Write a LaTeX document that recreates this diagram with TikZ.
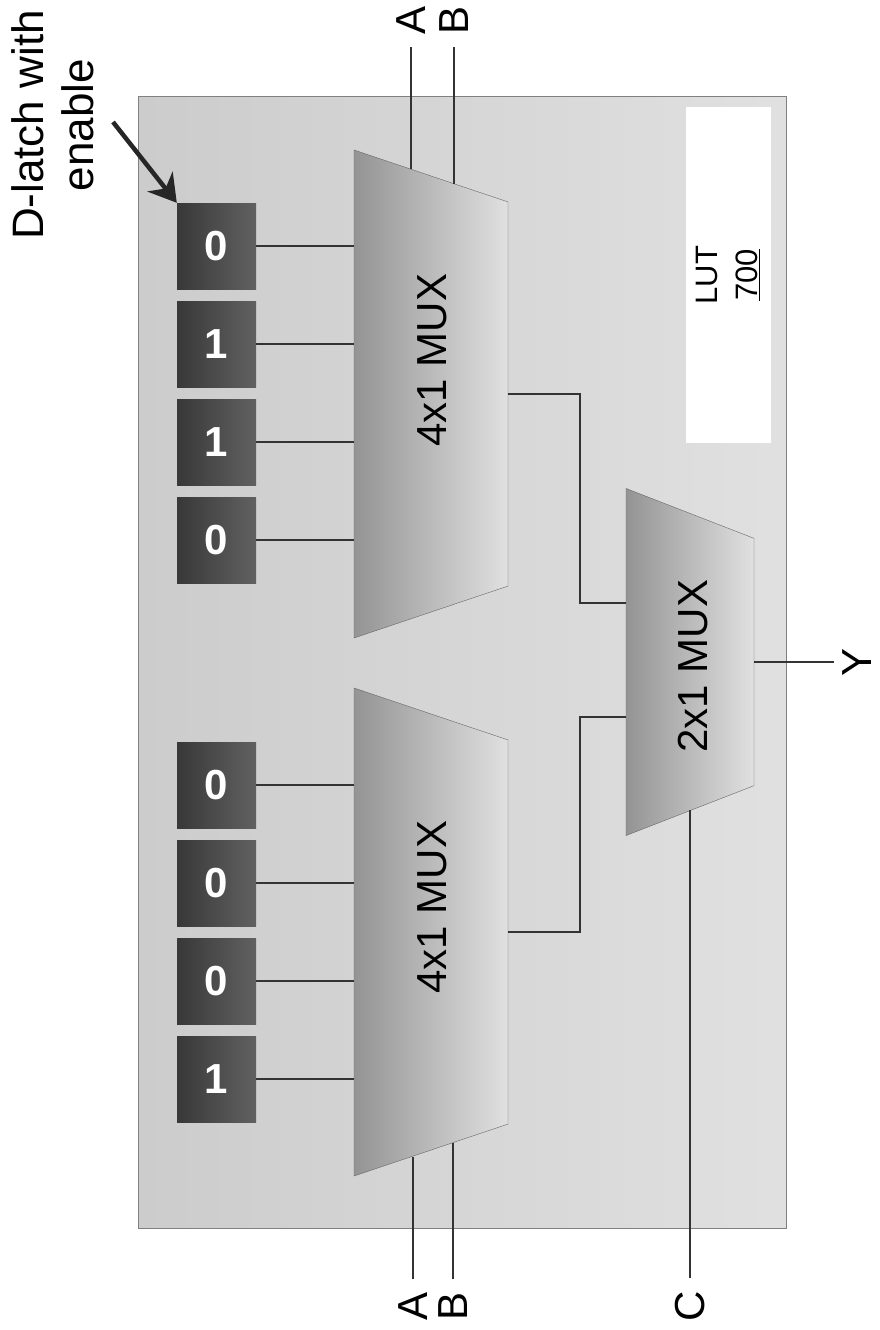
\documentclass[tikz,border=0pt]{standalone}
\usepackage{fontspec}
\setmainfont{Liberation Sans}
\usetikzlibrary{shapes.geometric,arrows.meta}
\begin{document}
\begin{tikzpicture}[x=1pt,y=-1pt,node distance=98pt]
        % Style Definitions
        \tikzstyle{lut} = [rectangle, draw=black!50, left color=black!20, middle color=black!8, right color=black!12, minimum width=648pt, minimum height=1132pt, inner sep=0pt]
        \tikzstyle{lutbox} = [rectangle, fill=white, minimum width=336pt, minimum height=85pt, inner sep=0pt, align=center, rotate=90, font=\fontsize{31}{31}\selectfont]
        \tikzstyle{latch} = [rectangle, left color=black!78, right color=black!62, text=white, minimum width=79pt, minimum height=86pt, inner sep=0pt, font=\fontsize{42}{42}\bfseries\selectfont]
        \tikzstyle{mux} = [trapezium, shape border rotate=270, trapezium stretches=true, draw=black!60, thin, left color=black!42, right color=black!12, inner sep=1pt, outer sep=0pt]
        \tikzstyle{muxlabel} = [inner sep=0pt, rotate=90, font=\fontsize{42}{42}\selectfont]
        \tikzstyle{pin} = [inner sep=13pt, rotate=90, font=\fontsize{42}{42}\selectfont]
        \tikzstyle{wire} = [draw=black!80, line width=1.7pt]

        \useasboundingbox (0,0) rectangle (879,1330);

        % Nodes
        \node (body) [lut] at (462,662) {};
        \node (legend) [lutbox] at (728,275) {LUT\\[9pt]\underline{700}};

        \node (muxtop) [mux, trapezium angle=82.3, minimum width=488pt, minimum height=154pt] at (431,394) {};
        \node (muxbot) [mux, trapezium angle=82.3, minimum width=488pt, minimum height=154pt] at (431,932) {};
        \node (muxout) [mux, trapezium angle=78.6, minimum width=347pt, minimum height=128pt] at (690,662) {};
        \node (labtop) [muxlabel] at (432,360) {4x1 MUX};
        \node (labbot) [muxlabel] at (432,907) {4x1 MUX};
        \node (labout) [muxlabel] at (693,666) {2x1 MUX};

        \node (t0) [latch] at (216.5,246) {0};
        \node (t1) [latch, below of=t0] {1};
        \node (t2) [latch, below of=t1] {1};
        \node (t3) [latch, below of=t2] {0};
        \node (b0) [latch] at (216.5,785) {0};
        \node (b1) [latch, below of=b0] {0};
        \node (b2) [latch, below of=b1] {0};
        \node (b3) [latch, below of=b2] {1};

        \node (atop) [pin] at (411,20) {A};
        \node (btop) [pin] at (454,20) {B};
        \node (abot) [pin] at (413,1306) {A};
        \node (bbot) [pin] at (453,1306) {B};
        \node (cin) [pin] at (690,1306) {C};
        \node (yout) [pin, inner sep=8pt] at (857,662) {Y};
        \node (note) [inner sep=0pt, rotate=90, align=center, font=\fontsize{44}{50}\selectfont] at (53,125) {D-latch with\\enable};

        \coordinate (atopend) at (411,169);
        \coordinate (btopend) at (454,184);
        \coordinate (abotend) at (413,1157);
        \coordinate (bbotend) at (453,1143);
        \coordinate (cinend) at (690,810);
        \coordinate (notetail) at (113,122);

        % Arrows
        \foreach \cell in {t0,t1,t2,t3} \draw[wire] (\cell.east) -- (\cell.east -| muxtop.west);
        \foreach \cell in {b0,b1,b2,b3} \draw[wire] (\cell.east) -- (\cell.east -| muxbot.west);
        \draw[wire] (muxtop.east) -- ++(72,0) |- (muxout.west |- 0,603);
        \draw[wire] (muxbot.east) -- ++(72,0) |- (muxout.west |- 0,717);
        \draw[wire] (muxout.east) -- (yout);
        \draw[wire] (atop) -- (atopend);
        \draw[wire] (btop) -- (btopend);
        \draw[wire] (abot) -- (abotend);
        \draw[wire] (bbot) -- (bbotend);
        \draw[wire] (cin) -- (cinend);
        \draw[-{Stealth[length=27pt,width=32pt]}, line width=4.5pt, black!85] (notetail) -- (t0.north west);

    \end{tikzpicture}
\end{document}
